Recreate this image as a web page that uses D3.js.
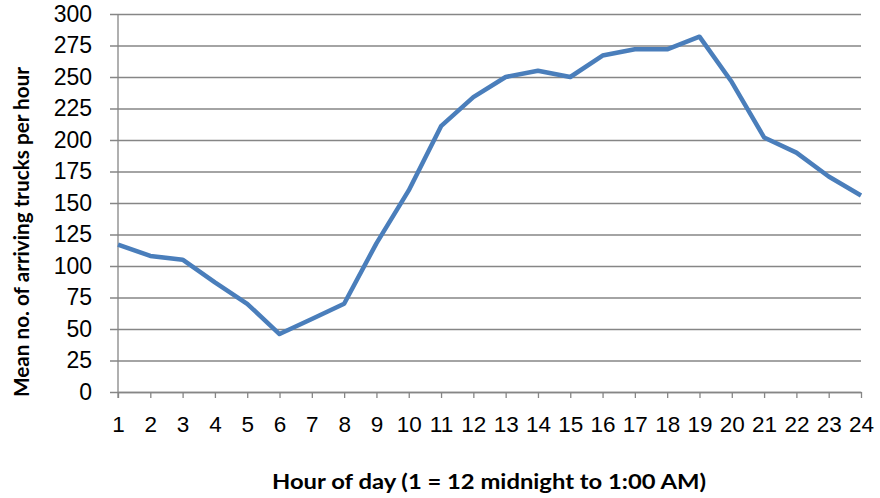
<!DOCTYPE html>
<html>
<head>
<meta charset="utf-8">
<script src="https://cdn.jsdelivr.net/npm/d3@7"></script>
<style>
  html, body { margin: 0; padding: 0; background: #fff; }
  svg { display: block; font-family: Lato, "Open Sans", sans-serif; }
</style>
</head>
<body>
<div id="chart"></div>
<script>
// hour of day and the mean truck arrivals
const hours = d3.range(1, 25);
const trucks = [117, 108, 105, 87, 70, 46, 58, 70, 118, 160, 211, 234, 250, 255, 250, 267, 272, 272, 282, 246, 202, 190, 171, 156];
const yTicks = [0, 25, 50, 75, 100, 125, 150, 175, 200, 225, 250, 275, 300];

const width = 880, height = 498;
const margin = { left: 118, right: 19, top: 14, bottom: 106 };

const svg = d3.select("#chart").append("svg")
    .attr("width", width).attr("height", height);

const x = d3.scaleLinear().domain([1, 24]).range([margin.left, width - margin.right]);
const y = d3.scaleLinear().domain([0, 300]).range([height - margin.bottom, margin.top]);

const gridColor = "#868686";

// horizontal gridlines + y labels
const yAxis = d3.axisLeft(y).tickValues(yTicks)
    .tickSize(-(x.range()[1] - x.range()[0]))
    .tickSizeOuter(0).tickPadding(18);
const gy = svg.append("g").attr("transform", `translate(${margin.left},0)`).call(yAxis);
gy.select(".domain").remove();
gy.selectAll(".tick line").attr("stroke", gridColor).attr("stroke-width", 1.3)
    .attr("x1", -8);
gy.selectAll(".tick text").attr("fill", "#000").attr("font-size", 23).attr("x", -26);

// x axis with ticks at each hour
const xAxis = d3.axisBottom(x).tickValues(hours).tickFormat(d3.format("d"))
    .tickSize(6).tickSizeOuter(0).tickPadding(18);
const gx = svg.append("g").attr("transform", `translate(0,${y(0)})`).call(xAxis);
gx.select(".domain").attr("stroke", gridColor).attr("stroke-width", 1.3);
gx.selectAll(".tick line").attr("stroke", gridColor).attr("stroke-width", 1.3);
gx.selectAll(".tick text").attr("fill", "#000").attr("font-size", 22.5);

// vertical axis line
svg.append("line")
    .attr("x1", margin.left).attr("x2", margin.left)
    .attr("y1", y(300)).attr("y2", y(0) + 6)
    .attr("stroke", gridColor).attr("stroke-width", 1.3);

// data line
const line = d3.line().x((d, i) => x(hours[i])).y(d => y(d));
svg.append("path").datum(trucks)
    .attr("d", line)
    .attr("fill", "none")
    .attr("stroke", "#4a7ebb")
    .attr("stroke-width", 4.5)
    .attr("stroke-linejoin", "round");

// axis titles
svg.append("text")
    .attr("x", 489).attr("y", 489)
    .attr("text-anchor", "middle")
    .attr("font-size", 21).attr("font-weight", "bold")
    .attr("textLength", 434).attr("lengthAdjust", "spacingAndGlyphs")
    .text("Hour of day (1 = 12 midnight to 1:00 AM)");

svg.append("text")
    .attr("transform", "translate(29,232) rotate(-90)")
    .attr("text-anchor", "middle")
    .attr("font-size", 21).attr("font-weight", "bold")
    .attr("textLength", 330).attr("lengthAdjust", "spacingAndGlyphs")
    .text("Mean no. of arriving trucks per hour");
</script>
</body>
</html>
